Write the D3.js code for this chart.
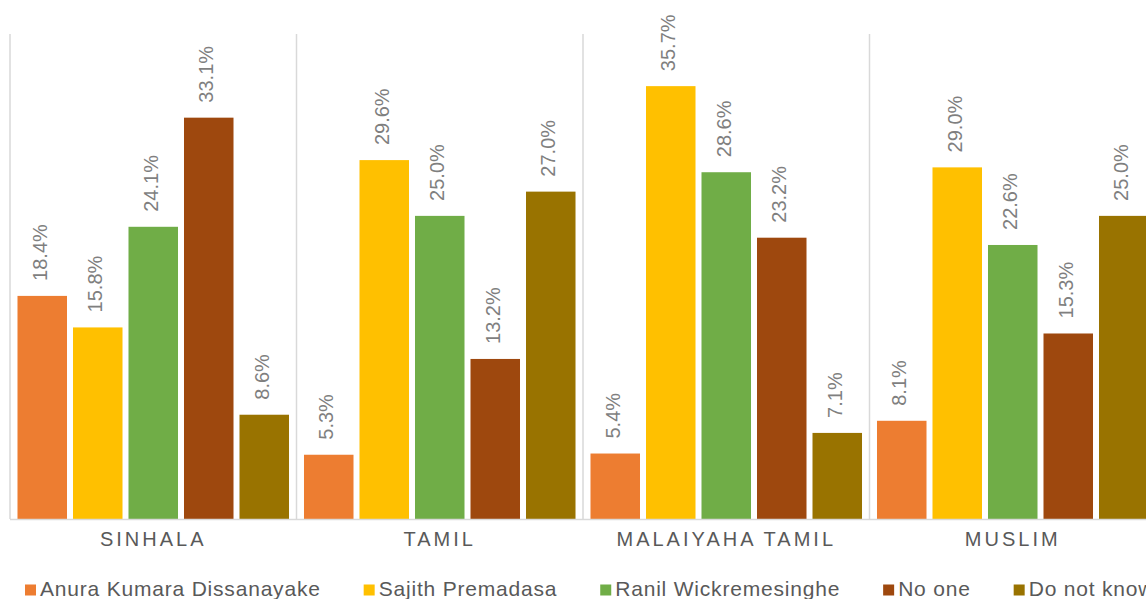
<!DOCTYPE html>
<html>
<head>
<meta charset="utf-8">
<script src="https://cdn.jsdelivr.net/npm/d3@7"></script>
<style>
  html, body { margin: 0; padding: 0; background: #ffffff; }
  svg { display: block; font-family: "Liberation Sans", Arial, Helvetica, sans-serif; }
</style>
</head>
<body>
<svg id="chart" width="1146" height="599"></svg>
<script>
// Voting preference by community
const communities = ["SINHALA", "TAMIL", "MALAIYAHA TAMIL", "MUSLIM"];
const candidates = ["Anura Kumara Dissanayake", "Sajith Premadasa", "Ranil Wickremesinghe", "No one", "Do not know"];
const colors = ["#ED7D31", "#FFC000", "#70AD47", "#9E480E", "#997300"];

const anuraValues   = [18.4, 5.3, 5.4, 8.1];
const sajithValues  = [15.8, 29.6, 35.7, 29.0];
const ranilValues   = [24.1, 25.0, 28.6, 22.6];
const noOneValues   = [33.1, 13.2, 23.2, 15.3];
const dontKnowValues = [8.6, 27.0, 7.1, 25.0];

const seriesValues = [anuraValues, sajithValues, ranilValues, noOneValues, dontKnowValues];

const svg = d3.select("#chart");

const plotLeft = 10, groupWidth = 286.5;
const plotTop = 34, plotBottom = 519;

const x0 = d3.scaleBand()
  .domain(communities)
  .range([plotLeft, plotLeft + groupWidth * communities.length])
  .paddingInner(0).paddingOuter(0);

const x1 = d3.scaleBand()
  .domain(candidates)
  .range([0, x0.bandwidth()])
  .paddingInner(0.108)
  .paddingOuter(0.135);

const y = d3.scaleLinear().domain([0, 40]).range([plotBottom, plotTop]);

// group separators
const sepXs = communities.map(c => x0(c)).concat([x0(communities[communities.length - 1]) + x0.bandwidth()]);
svg.append("g").selectAll("line")
  .data(sepXs)
  .join("line")
  .attr("x1", d => d).attr("x2", d => d)
  .attr("y1", y(40)).attr("y2", y(0))
  .attr("stroke", "#d9d9d9").attr("stroke-width", 1.5);

// bars
const rows = [];
communities.forEach((c, ci) => {
  candidates.forEach((k, ki) => {
    rows.push({ community: c, candidate: k, value: seriesValues[ki][ci], color: colors[ki] });
  });
});

svg.append("g").selectAll("rect")
  .data(rows)
  .join("rect")
  .attr("x", d => x0(d.community) + x1(d.candidate))
  .attr("y", d => y(d.value))
  .attr("width", x1.bandwidth())
  .attr("height", d => y(0) - y(d.value))
  .attr("fill", d => d.color);

// baseline
svg.append("line")
  .attr("x1", plotLeft).attr("x2", x0.range()[1])
  .attr("y1", y(0) + 0.5).attr("y2", y(0) + 0.5)
  .attr("stroke", "#d9d9d9").attr("stroke-width", 1.5);

// value labels
svg.append("g").selectAll("text")
  .data(rows)
  .join("text")
  .attr("transform", d => {
    const cx = x0(d.community) + x1(d.candidate) + x1.bandwidth() / 2;
    return `translate(${cx},${y(d.value) - 15}) rotate(-90)`;
  })
  .attr("dy", "0.23em")
  .attr("text-anchor", "start")
  .attr("font-size", 20)
  .attr("fill", "#7f7f7f")
  .text(d => d.value.toFixed(1) + "%");

// category axis labels
const xAxis = d3.axisBottom(x0).tickSize(0).tickPadding(0);
const axisG = svg.append("g")
  .attr("transform", `translate(0,${plotBottom})`)
  .call(xAxis);
axisG.select(".domain").remove();
axisG.selectAll("text")
  .attr("dy", null)
  .attr("y", 27)
  .attr("font-size", 20)
  .attr("font-family", "'Liberation Sans', Arial, sans-serif")
  .attr("letter-spacing", "3px")
  .attr("fill", "#595959");

// legend
const legend = svg.append("g").attr("transform", "translate(0,596)");
let lx = 25;
candidates.forEach((name, i) => {
  const item = legend.append("g").attr("transform", `translate(${lx},0)`);
  item.append("rect")
    .attr("x", 0).attr("y", -11.5)
    .attr("width", 11).attr("height", 11)
    .attr("fill", colors[i]);
  const t = item.append("text")
    .attr("x", 15).attr("y", 0)
    .attr("font-size", 21)
    .attr("letter-spacing", "0.8px")
    .attr("fill", "#595959")
    .text(name);
  lx += 15 + t.node().getComputedTextLength() + 43;
});
</script>
</body>
</html>
